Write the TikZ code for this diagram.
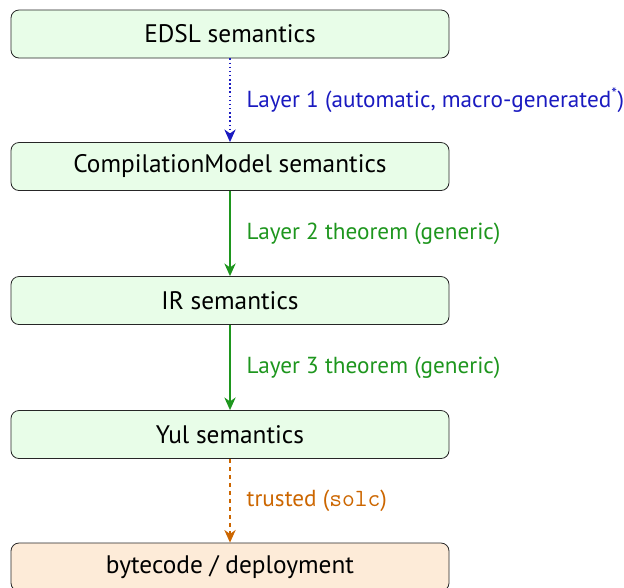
\documentclass[tikz,border=0pt]{standalone}
\usepackage{fontspec}
\setmainfont{PT Sans}
\usetikzlibrary{arrows.meta}
\definecolor{boxgreen}{HTML}{E8FDE8}
\definecolor{boxorange}{HTML}{FDEBD8}
\definecolor{ablue}{HTML}{1A1AC0}
\definecolor{agreen}{HTML}{1E961E}
\definecolor{aorange}{HTML}{CC6600}
\tikzset{
  stage/.style={draw=black!85, line width=0.6pt, rounded corners=6pt,
    minimum width=328.5pt, minimum height=36pt, inner sep=0pt,
    font=\fontsize{19}{22}\selectfont},
  greenbox/.style={stage, fill=boxgreen},
  orangebox/.style={stage, fill=boxorange},
  conn/.style={line width=1.1pt, -{Stealth[length=9.5pt,width=8.5pt,inset=3pt]}},
  lbl/.style={anchor=west, inner sep=0pt, font=\fontsize{17.4}{20}\selectfont},
}
\begin{document}
\begin{tikzpicture}[x=0.75pt,y=-0.75pt]
\useasboundingbox (0,0) rectangle (624,587);
\node[greenbox] (edsl) at (230,34) {EDSL semantics};
\node[greenbox] (cm) at (230,166.5) {CompilationModel semantics};
\node[greenbox] (ir) at (230,300.5) {IR semantics};
\node[greenbox] (yul) at (230,434.5) {Yul semantics};
\node[orangebox] (bc) at (230,567) {bytecode / deployment};
\draw[conn, ablue, dotted] (edsl) -- (cm) node[midway, xshift=16*0.75pt, lbl, text=ablue] (l1) {Layer 1 (automatic, macro-generated\textsuperscript{*})};
\draw[conn, agreen] (cm) -- (ir) node[midway, xshift=16*0.75pt, lbl, text=agreen] (l2) {Layer 2 theorem (generic)};
\draw[conn, agreen] (ir) -- (yul) node[midway, xshift=16*0.75pt, lbl, text=agreen] (l3) {Layer 3 theorem (generic)};
\draw[conn, aorange, dashed] (yul) -- (bc) node[midway, xshift=16*0.75pt, lbl, text=aorange] (l4) {trusted ({\fontsize{18.6}{20}\selectfont\ttfamily solc})};
\end{tikzpicture}
\end{document}
